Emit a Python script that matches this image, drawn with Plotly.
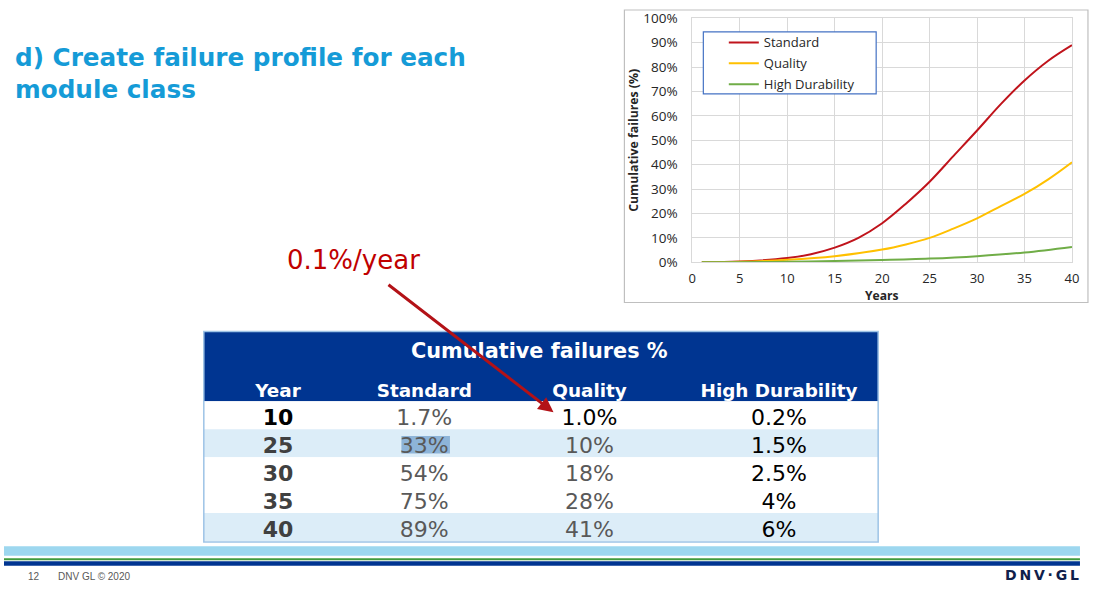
import plotly.graph_objects as go

W, H = 1106, 594

# ---- chart data ----
years_std = [1, 5, 10, 12.5, 15, 17.5, 20, 22.5, 25, 27.5, 30, 32.5, 35, 37.5, 40]
standard = [0.0, 0.3, 1.7, 3.3, 6.0, 10.0, 16.0, 24.0, 33.0, 43.5, 54.0, 64.8, 74.5, 82.6, 89.0]
years_q = [1, 5, 10, 15, 20, 22.5, 25, 27.5, 30, 32.5, 35, 37.5, 40]
quality = [0.0, 0.2, 1.0, 2.5, 5.2, 7.3, 10.0, 13.8, 18.0, 23.0, 28.0, 34.0, 41.0]
years_hd = [1, 5, 10, 15, 20, 25, 30, 35, 40]
high_dur = [0.0, 0.05, 0.2, 0.5, 0.9, 1.5, 2.5, 4.0, 6.3]

series_names = ["Standard", "Quality", "High Durability"]
series_colors = ["#c0141c", "#ffc000", "#70ad47"]

# ---- table data ----
table_title = "Cumulative failures %"
table_cols = ["Year", "Standard", "Quality", "High Durability"]
tab_years = ["10", "25", "30", "35", "40"]
tab_standard = ["1.7%", "33%", "54%", "75%", "89%"]
tab_quality = ["1.0%", "10%", "18%", "28%", "41%"]
tab_hd = ["0.2%", "1.5%", "2.5%", "4%", "6%"]

x_ticks = [0, 5, 10, 15, 20, 25, 30, 35, 40]
y_ticks = [0, 10, 20, 30, 40, 50, 60, 70, 80, 90, 100]

# ---- layout constants for the table grid (x2: fraction of table width, y2: row units) ----
col_pos = [0.11, 0.327, 0.572, 0.853]
header_y = 2.17
first_row_y = 3.0
text_dy = 0.15
band_bottom = 2.5
row_fill = ["#ffffff", "#dcedf8", "#ffffff", "#ffffff", "#dcedf8"]
grey = "#595959"
dark = "#404040"
cell_colors = [
    ["#000000"] + [dark] * 4,
    [grey] * 5,
    ["#000000"] + [grey] * 4,
    ["#000000"] * 5,
]

# picture-to-paper calibration (the photographed page is slightly inset)
SX, OX = 0.991, 3.0
SY, OY = 0.9714, 9.0


def px(x):
    return ((x - OX) / SX) / W


def py(y):
    return 1 - ((y - OY) / SY) / H


fig = go.Figure()

for xs, ys, name, col in zip([years_std, years_q, years_hd],
                             [standard, quality, high_dur],
                             series_names, series_colors):
    fig.add_trace(go.Scatter(x=xs, y=ys, name=name, mode="lines", legendgroup=name,
                             line=dict(color=col, width=2, shape="spline", smoothing=1.0),
                             hoverinfo="skip"))

# ---- table as text marks on its own axes ----
fig.add_trace(go.Scatter(
    x=col_pos, y=[header_y] * len(table_cols),
    text=["<b>%s</b>" % c for c in table_cols], mode="text",
    textposition="middle center",
    textfont=dict(family="DejaVu Sans", size=18.4, color="white"),
    xaxis="x2", yaxis="y2", showlegend=False, hoverinfo="skip"))

columns = [["<b>%s</b>" % v for v in tab_years], tab_standard, tab_quality, tab_hd]
cx, cy, ct, cc = [], [], [], []
for ci, colvals in enumerate(columns):
    for ri, v in enumerate(colvals):
        cx.append(col_pos[ci])
        cy.append(first_row_y + ri + text_dy)
        ct.append(v)
        cc.append(cell_colors[ci][ri])
fig.add_trace(go.Scatter(
    x=cx, y=cy, text=ct, mode="text", textposition="middle center",
    textfont=dict(family="DejaVu Sans", size=22, color=cc),
    xaxis="x2", yaxis="y2", showlegend=False, hoverinfo="skip"))

shapes = []
shapes.append(dict(type="rect", xref="x2 domain", yref="y2", x0=0, x1=1, y0=0, y1=band_bottom,
                   line=dict(width=0), fillcolor="#003591", layer="below"))
for ri, f in enumerate(row_fill):
    shapes.append(dict(type="rect", xref="x2 domain", yref="y2", x0=0, x1=1,
                       y0=first_row_y + ri - 0.5, y1=first_row_y + ri + 0.5,
                       line=dict(width=0), fillcolor=f, layer="below"))
shapes.append(dict(type="rect", xref="x2", yref="y2", x0=0.293, x1=0.365, y0=3.74, y1=4.37,
                   line=dict(width=0), fillcolor="#8db4d8", layer="below"))
shapes.append(dict(type="rect", xref="x2 domain", yref="y2 domain", x0=0, x1=1, y0=0, y1=1,
                   line=dict(color="#9dc3e6", width=1.5), fillcolor="rgba(0,0,0,0)", layer="above"))

shapes += [
    dict(type="rect", xref="paper", yref="paper", x0=px(624), x1=px(1088), y0=py(303), y1=py(10),
         line=dict(color="#bfbfbf", width=1.2), fillcolor="rgba(0,0,0,0)", layer="below"),
    dict(type="rect", xref="paper", yref="paper", x0=px(703), x1=px(876), y0=py(94), y1=py(32),
         line=dict(color="#4472c4", width=1.2), fillcolor="white", layer="above"),
    dict(type="rect", xref="paper", yref="paper", x0=0, x1=px(1080), y0=py(556.7), y1=py(547.3),
         line=dict(width=0), fillcolor="#9dd7ef", layer="below"),
    dict(type="rect", xref="paper", yref="paper", x0=0, x1=px(1080), y0=py(561.3), y1=py(559.3),
         line=dict(width=0), fillcolor="#3f9a3c", layer="below"),
    dict(type="rect", xref="paper", yref="paper", x0=0, x1=px(1080), y0=py(566.7), y1=py(562.3),
         line=dict(width=0), fillcolor="#003591", layer="below"),
]

annotations = [
    dict(text="<b>d) Create failure profile for each</b>", x=px(12), y=py(58), xref="paper", yref="paper",
         xanchor="left", yanchor="middle", showarrow=False,
         font=dict(family="DejaVu Sans", size=24.7, color="#159bd7")),
    dict(text="<b>module class</b>", x=px(12), y=py(90), xref="paper", yref="paper",
         xanchor="left", yanchor="middle", showarrow=False,
         font=dict(family="DejaVu Sans", size=24.7, color="#159bd7")),
    dict(text="0.1%/year", x=px(352.5), y=py(260), xref="paper", yref="paper",
         xanchor="center", yanchor="middle", showarrow=False,
         font=dict(family="DejaVu Sans", size=26, color="#c00000")),
    dict(text="<b>%s</b>" % table_title, x=px(539), y=py(352), xref="paper", yref="paper",
         xanchor="center", yanchor="middle", showarrow=False,
         font=dict(family="DejaVu Sans", size=20.8, color="white")),
    dict(text="", x=px(553), y=py(413), xref="paper", yref="paper",
         ax=-(553 - 388) / SX, ay=-(413 - 288) / SY, axref="pixel", ayref="pixel", showarrow=True,
         arrowhead=2, arrowsize=1, arrowwidth=3, arrowcolor="#b31217"),
    dict(text="<b>Years</b>", x=px(882), y=py(296), xref="paper", yref="paper",
         xanchor="center", yanchor="middle", showarrow=False,
         font=dict(family="Open Sans", size=12.1, color="#262626")),
    dict(text="12", x=px(25), y=py(577), xref="paper", yref="paper",
         xanchor="left", yanchor="middle", showarrow=False,
         font=dict(family="Liberation Sans Narrow, Liberation Sans", size=10, color="#595959")),
    dict(text="DNV GL © 2020", x=px(55), y=py(577), xref="paper", yref="paper",
         xanchor="left", yanchor="middle", showarrow=False,
         font=dict(family="Liberation Sans Narrow, Liberation Sans", size=10, color="#595959")),
    dict(text="<b>D\u2009N\u2009V\u2009·\u2009G\u2009L</b>", x=px(1081), y=py(576), xref="paper", yref="paper",
         xanchor="right", yanchor="middle", showarrow=False,
         font=dict(family="DejaVu Sans", size=14, color="#0f204b")),
]

fig.update_layout(
    width=W, height=H,
    margin=dict(l=0, r=0, t=0, b=0),
    paper_bgcolor="white", plot_bgcolor="rgba(0,0,0,0)",
    showlegend=True,
    legend=dict(x=px(723.5), y=py(27.5), xanchor="left", yanchor="top",
                bgcolor="rgba(0,0,0,0)", borderwidth=0,
                font=dict(family="Open Sans", size=13, color="#262626"),
                tracegroupgap=1, itemwidth=30),
    shapes=shapes,
    annotations=annotations,
    xaxis=dict(domain=[px(692), px(1072)], range=[0, 40], tickvals=x_ticks,
               showgrid=True, gridcolor="#d9d9d9", gridwidth=1,
               showline=True, linecolor="#d9d9d9", mirror=True, zeroline=False,
               ticks="", tickfont=dict(family="Open Sans", size=13, color="#262626"),
               ticklabelstandoff=4, fixedrange=True),
    yaxis=dict(domain=[py(262.7), py(18.3)], range=[0, 100], tickvals=y_ticks,
               ticktext=["%d%%" % v for v in y_ticks],
               showgrid=True, gridcolor="#d9d9d9", gridwidth=1,
               showline=True, linecolor="#d9d9d9", mirror=True, zeroline=False,
               ticks="", tickfont=dict(family="Open Sans", size=13.5, color="#262626"),
               ticklabelstandoff=11,
               title=dict(text="<b>Cumulative failures (%)</b>", standoff=2,
                          font=dict(family="Open Sans", size=12.3, color="#262626")),
               fixedrange=True),
    xaxis2=dict(domain=[px(203), px(878)], range=[0, 1], visible=False, fixedrange=True,
                anchor="y2"),
    yaxis2=dict(domain=[py(543), py(332)], range=[(543 - 332) / 28, 0], visible=False,
                fixedrange=True, anchor="x2"),
)

fig.write_html("out.html")
